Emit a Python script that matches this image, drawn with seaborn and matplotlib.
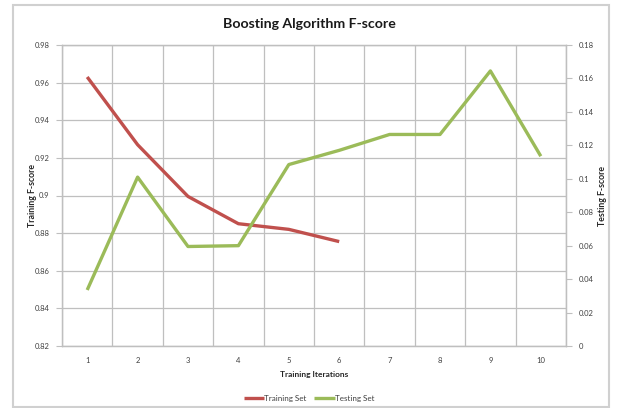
import matplotlib
matplotlib.use("Agg")
import matplotlib.pyplot as plt
from matplotlib.patches import Rectangle
from matplotlib.lines import Line2D
import seaborn as sns
import pandas as pd

# Data
iterations = [1, 2, 3, 4, 5, 6, 7, 8, 9, 10]
training_iters = [1, 2, 3, 4, 5, 6]
training_fscore = [0.963, 0.927, 0.8995, 0.885, 0.882, 0.8755]
testing_fscore = [0.0335, 0.101, 0.0595, 0.060, 0.1085, 0.117, 0.1265, 0.1265, 0.1645, 0.1135]
left_ticks = [0.82, 0.84, 0.86, 0.88, 0.90, 0.92, 0.94, 0.96, 0.98]
left_labels = ["0.82", "0.84", "0.86", "0.88", "0.9", "0.92", "0.94", "0.96", "0.98"]
right_ticks = [0, 0.02, 0.04, 0.06, 0.08, 0.10, 0.12, 0.14, 0.16, 0.18]
right_labels = ["0", "0.02", "0.04", "0.06", "0.08", "0.1", "0.12", "0.14", "0.16", "0.18"]

RED = "#C0504D"
GREEN = "#9BBB59"
GRID = "#BFBFBF"
TEXT = "#404040"

sns.set_theme(style="white")
plt.rcParams["font.family"] = ["Lato", "DejaVu Sans"]

train_df = pd.DataFrame({"iteration": training_iters, "fscore": training_fscore})
test_df = pd.DataFrame({"iteration": iterations, "fscore": testing_fscore})

W, H = 618, 408
fig = plt.figure(figsize=(W / 100, H / 100), dpi=100)
ax = fig.add_axes([62 / W, 1 - 346 / H, (566 - 62) / W, (346 - 45) / H])
ax2 = ax.twinx()

sns.lineplot(data=train_df, x="iteration", y="fscore", ax=ax, color=RED,
             linewidth=2.4, solid_capstyle="butt", zorder=3)
sns.lineplot(data=test_df, x="iteration", y="fscore", ax=ax2, color=GREEN,
             linewidth=2.4, solid_capstyle="butt", zorder=3)

ax.set_xlim(0.5, 10.5)
ax.set_ylim(0.82, 0.98)
ax2.set_ylim(0, 0.18)

# x axis: labels at category centres, marks and grid at category boundaries
ax.set_xticks(iterations)
ax.set_xticklabels([str(i) for i in iterations])
ax.set_xticks([i + 0.5 for i in range(0, 11)], minor=True)
ax.tick_params(axis="x", which="major", length=0, pad=8, labelsize=5.5, labelcolor=TEXT)
ax.tick_params(axis="x", which="minor", length=4, width=0.8, color=GRID, direction="out")
ax.grid(True, axis="x", which="minor", color=GRID, linewidth=0.9)

ax.set_yticks(left_ticks)
ax.set_yticklabels(left_labels)
ax.tick_params(axis="y", length=4, width=0.8, color=GRID, direction="out",
               labelsize=5.5, labelcolor=TEXT, pad=5, left=True)
ax.grid(True, axis="y", which="major", color=GRID, linewidth=0.9)
ax.set_axisbelow(True)

ax2.set_yticks(right_ticks)
ax2.set_yticklabels(right_labels)
ax2.tick_params(axis="y", length=4, width=0.8, color=GRID, direction="out",
                labelsize=5.5, labelcolor=TEXT, pad=5, right=True)
ax2.grid(False)

for a in (ax, ax2):
    for s in a.spines.values():
        s.set_color(GRID)
        s.set_linewidth(0.9)

ax.set_xlabel("Training Iterations", fontsize=6, fontweight="bold", color="#262626", labelpad=5)
ax.set_ylabel("Training F-score", fontsize=6.3, fontweight="bold", color="#262626")
ax2.set_ylabel("Testing F-score", fontsize=6.3, fontweight="bold", color="#262626", rotation=90)
ax.yaxis.set_label_coords((37 - 62) / 504, 0.5)
ax2.yaxis.set_label_coords((598 - 62) / 504, 0.5)

fig.text(0.5, 1 - 24 / H, "Boosting Algorithm F-score", ha="center", va="center",
         fontsize=10.2, fontweight="bold", color="#1a1a1a")

handles = [Line2D([], [], color=RED, linewidth=2.4, solid_capstyle="butt"),
           Line2D([], [], color=GREEN, linewidth=2.4, solid_capstyle="butt")]
fig.legend(handles, ["Training Set", "Testing Set"], loc="center",
           bbox_to_anchor=(0.5, 1 - 398 / H), ncol=2, frameon=False,
           fontsize=5.8, handlelength=2.5, handletextpad=0.0, columnspacing=1.0,
           labelcolor=TEXT)

fig.patches.append(Rectangle((13 / W, 1 - 407 / H), (609 - 13) / W, (407 - 5) / H,
                             transform=fig.transFigure, fill=False,
                             edgecolor="#D0D0D0", linewidth=1.5))

fig.savefig("out.png", dpi=100)
